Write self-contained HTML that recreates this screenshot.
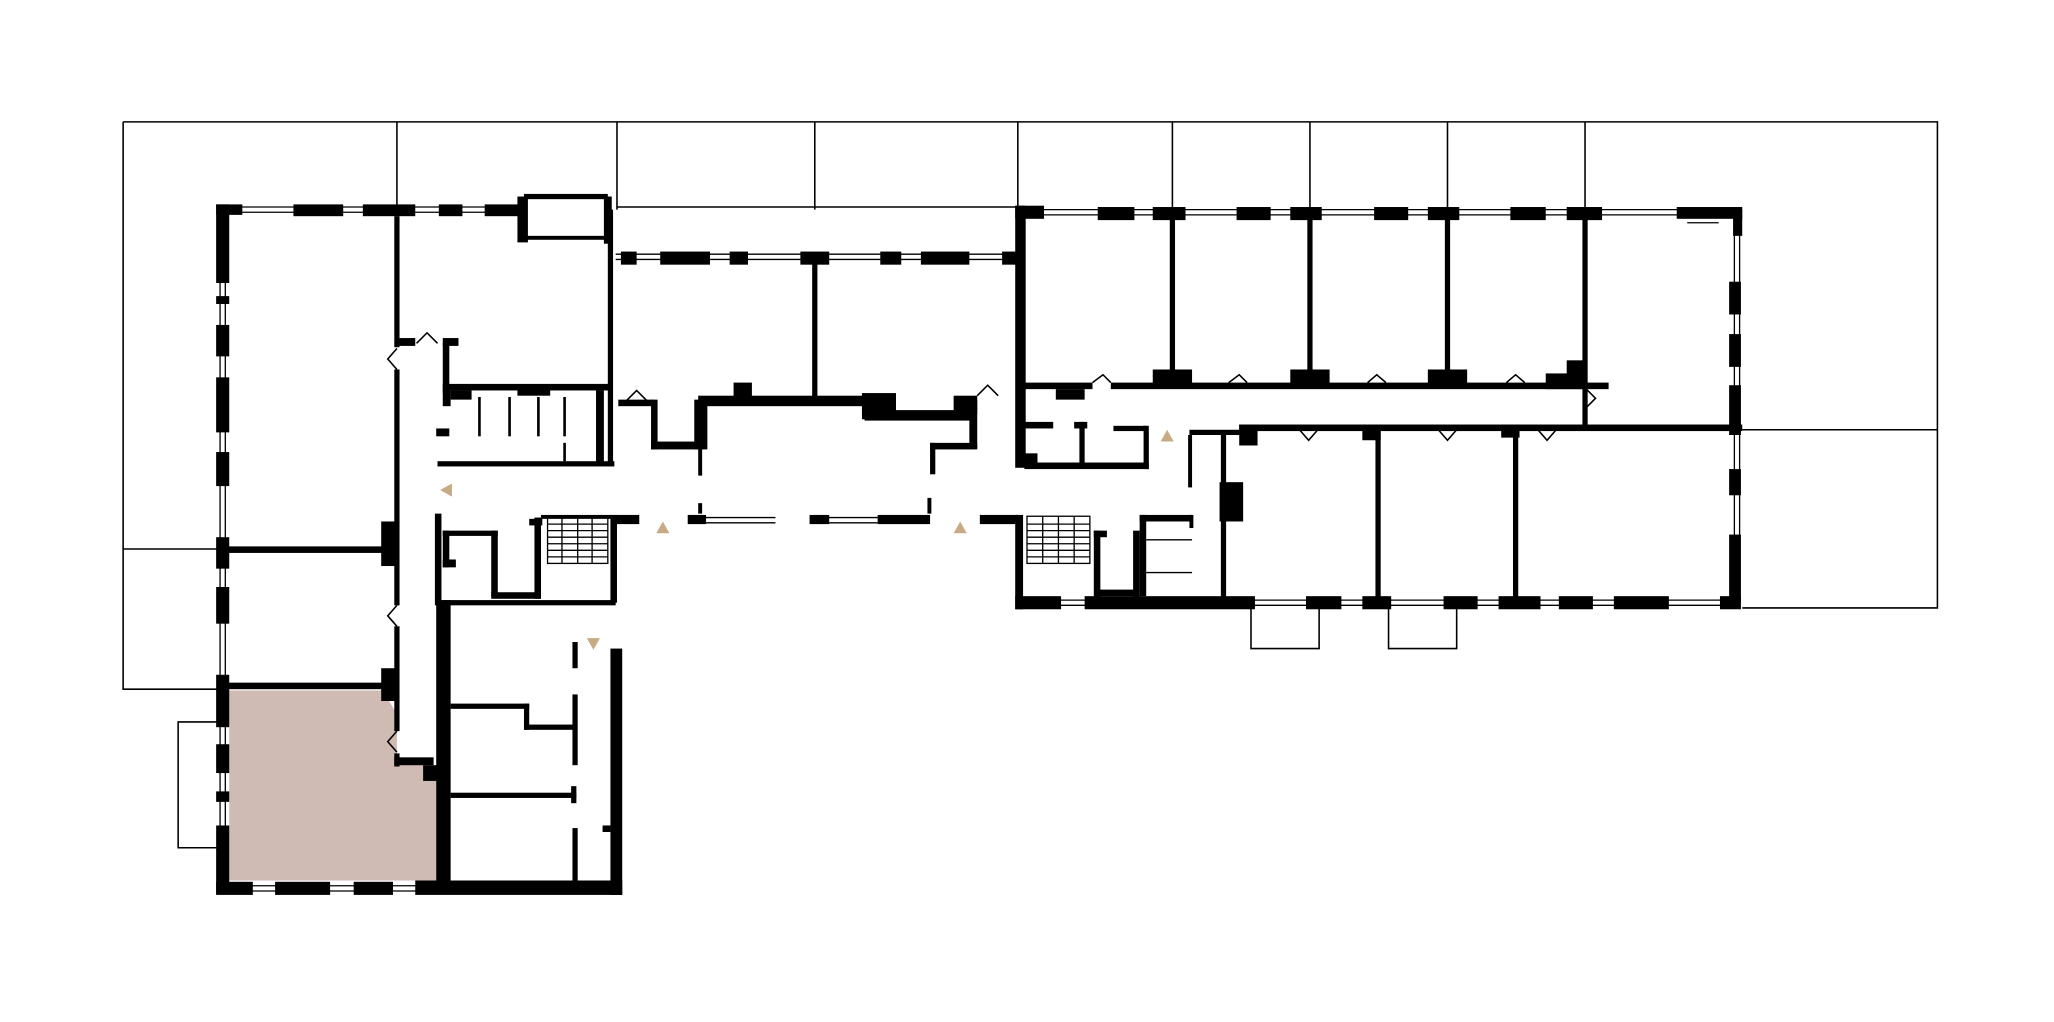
<!DOCTYPE html>
<html><head><style>html,body{margin:0;padding:0;background:#fff;width:2054px;height:1022px;overflow:hidden}svg{display:block}</style></head><body>
<svg width="2054" height="1022" viewBox="0 0 1568 780" preserveAspectRatio="none" xmlns="http://www.w3.org/2000/svg">
<rect width="1568" height="780" fill="#fff"/>
<!-- thin site grid -->
<g stroke="#000" stroke-width="1.2" fill="none">
<path d="M94 93H1479V464H1330M94 93V526H170M94 419H170M303 93V160M471 93V160M622 93V160M777 93V160M895 93V160M1000 93V160M1105 93V160M1210 93V160M471 158H777M1330 328H1479"/>
<path d="M955 462V495H1007V462M1060 462V495H1112V462M166 551H136V647H166"/>
</g>
<!-- pink room -->
<polygon points="175,527 297,527 297,535 303,545 303,583 325,583 325,593 333,593 333,672 175,672" fill="#cfbab4"/>
<!-- window double lines -->
<g stroke="#000" stroke-width="1" fill="none">
<path d="M168 165V680M172 165V680M170 158H400M170 162H400M470 194H778M470 198H778M782 160H1328M782 164H1328M1324 165V462M1328 165V462M780 458H1328M780 462H1328M170 676H335M170 680H335M530 395H592M530 399H592M620 395H710M620 399H710"/>
</g>
<g fill="#000">
<!-- left outer wall blocks -->
<rect x="165" y="156" width="10" height="60"/><rect x="165" y="226" width="10" height="6"/><rect x="165" y="248" width="10" height="24"/><rect x="165" y="288" width="10" height="42"/><rect x="165" y="345" width="10" height="26"/><rect x="165" y="410" width="10" height="24"/><rect x="165" y="448" width="10" height="28"/><rect x="165" y="515" width="10" height="40"/><rect x="165" y="568" width="10" height="22"/><rect x="165" y="604" width="10" height="8"/><rect x="165" y="630" width="10" height="52"/>
<rect x="165" y="156" width="20" height="8"/><rect x="224" y="156" width="38" height="9"/><rect x="277" y="156" width="40" height="9"/><rect x="335" y="156" width="18" height="9"/><rect x="370" y="156" width="30" height="9"/>
<rect x="165" y="673" width="28" height="10"/><rect x="210" y="673" width="42" height="10"/><rect x="270" y="673" width="30" height="10"/><rect x="317" y="672" width="158" height="11"/>
<!-- left wing inner walls -->
<rect x="170" y="417" width="133" height="5"/><rect x="170" y="521" width="133" height="5"/>
<rect x="301" y="165" width="4" height="100"/><rect x="301" y="282" width="4" height="180"/><rect x="301" y="478" width="4" height="80"/><rect x="301" y="575" width="4" height="10"/>
<rect x="291" y="398" width="12" height="34"/><rect x="291" y="510" width="12" height="25"/>
<rect x="301" y="578" width="30" height="6"/><rect x="323" y="584" width="15" height="12"/>
<rect x="333" y="458" width="11" height="224"/><rect x="338" y="458" width="132" height="4"/>
<rect x="466" y="495" width="9" height="188"/>
<rect x="344" y="537" width="60" height="4"/><rect x="400" y="537" width="4" height="20"/><rect x="400" y="553" width="40" height="4"/>
<rect x="344" y="605" width="96" height="4"/><rect x="436" y="600" width="4" height="13"/>
<rect x="437" y="530" width="4" height="54"/><rect x="437" y="632" width="4" height="40"/><rect x="437" y="490" width="4" height="20"/><rect x="460" y="630" width="6" height="5"/>
<!-- box top -->
<rect x="395" y="150" width="8" height="35"/><rect x="400" y="148" width="64" height="4"/><rect x="400" y="180" width="64" height="3"/><rect x="461" y="150" width="6" height="36"/>
<rect x="464" y="160" width="4" height="195"/>
<rect x="305" y="258" width="12" height="6"/><rect x="338" y="258" width="12" height="6"/><rect x="338" y="262" width="5" height="38"/>
<rect x="338" y="293" width="128" height="5"/><rect x="338" y="298" width="6" height="12"/><rect x="344" y="298" width="16" height="7"/><rect x="395" y="296" width="25" height="6"/><rect x="455" y="298" width="6" height="57"/>
<rect x="333" y="327" width="10" height="6"/>
<rect x="334" y="352" width="135" height="4"/>
<rect x="365" y="303" width="2" height="30"/><rect x="388" y="303" width="2" height="30"/><rect x="410" y="303" width="2" height="30"/><rect x="430" y="303" width="2" height="30"/><rect x="430" y="338" width="2" height="14"/>
<!-- lower left corridor rooms -->
<rect x="332" y="392" width="5" height="70"/><rect x="338" y="405" width="42" height="4"/><rect x="338" y="405" width="5" height="28"/><rect x="338" y="427" width="10" height="6"/><rect x="375" y="405" width="5" height="50"/><rect x="375" y="452" width="38" height="5"/><rect x="408" y="395" width="5" height="62"/><rect x="404" y="396" width="10" height="5"/>
<rect x="413" y="393" width="55" height="3"/><rect x="466" y="393" width="5" height="67"/><rect x="470" y="393" width="18" height="7"/>
<!-- middle -->
<rect x="474" y="192" width="12" height="10"/><rect x="504" y="192" width="38" height="10"/><rect x="557" y="192" width="14" height="10"/><rect x="611" y="192" width="22" height="10"/><rect x="672" y="192" width="16" height="10"/><rect x="703" y="192" width="37" height="10"/><rect x="765" y="192" width="14" height="10"/>
<rect x="620" y="196" width="4" height="110"/>
<rect x="533" y="302" width="130" height="8"/><rect x="560" y="292" width="14" height="12"/><rect x="658" y="300" width="26" height="20"/><rect x="660" y="313" width="85" height="8"/><rect x="728" y="302" width="18" height="14"/><rect x="740" y="305" width="6" height="37"/><rect x="710" y="338" width="36" height="5"/><rect x="710" y="338" width="4" height="24"/>
<rect x="530" y="305" width="10" height="38"/><rect x="497" y="337" width="40" height="6"/><rect x="497" y="305" width="5" height="38"/><rect x="472" y="305" width="27" height="5"/><rect x="533" y="343" width="3" height="20"/>
<rect x="533" y="384" width="3" height="8"/><rect x="525" y="393" width="14" height="7"/><rect x="618" y="393" width="15" height="7"/><rect x="670" y="393" width="40" height="7"/><rect x="708" y="380" width="3" height="12"/>
<rect x="748" y="393" width="30" height="7"/><rect x="775" y="393" width="6" height="72"/>
<!-- stairs -->
<g stroke="#000" stroke-width="1" fill="none"><rect x="418" y="394" width="46" height="36"/><path d="M441 394V430M418 400H464M418 405H464M418 410H464M418 415H464M418 420H464M418 425H464M429 394V430M452 394V430"/>
<rect x="784" y="394" width="48" height="36"/><path d="M808 394V430M784 400H832M784 405H832M784 410H832M784 415H832M784 420H832M784 425H832M796 394V430M820 394V430"/></g>
<!-- right wing -->
<rect x="775" y="157" width="8" height="200"/><rect x="775" y="157" width="22" height="10"/>
<rect x="838" y="158" width="28" height="10"/><rect x="880" y="158" width="25" height="10"/><rect x="944" y="158" width="26" height="10"/><rect x="985" y="158" width="24" height="10"/><rect x="1049" y="158" width="26" height="10"/><rect x="1090" y="158" width="24" height="10"/><rect x="1153" y="158" width="27" height="10"/><rect x="1196" y="158" width="27" height="10"/><rect x="1280" y="158" width="50" height="9"/><rect x="1323" y="160" width="7" height="20"/>
<rect x="1320" y="215" width="9" height="25"/><rect x="1320" y="255" width="9" height="25"/><rect x="1320" y="294" width="9" height="38"/><rect x="1320" y="358" width="9" height="20"/><rect x="1320" y="408" width="9" height="52"/><rect x="1313" y="455" width="16" height="10"/>
<rect x="893" y="165" width="4" height="128"/><rect x="998" y="165" width="4" height="128"/><rect x="1103" y="165" width="4" height="128"/><rect x="1208" y="165" width="4" height="160"/>
<rect x="782" y="292" width="52" height="5"/><rect x="806" y="297" width="22" height="8"/><rect x="848" y="292" width="380" height="5"/>
<rect x="880" y="282" width="30" height="14"/><rect x="985" y="282" width="30" height="14"/><rect x="1090" y="282" width="30" height="14"/><rect x="1180" y="285" width="30" height="12"/><rect x="1196" y="275" width="14" height="12"/>
<rect x="946" y="324" width="384" height="5"/><rect x="946" y="324" width="14" height="16"/><rect x="1040" y="324" width="14" height="12"/><rect x="1146" y="324" width="14" height="10"/>
<rect x="1050" y="326" width="4" height="134"/><rect x="1155" y="326" width="4" height="134"/>
<rect x="908" y="328" width="40" height="4"/><rect x="932" y="332" width="4" height="128"/><rect x="931" y="368" width="18" height="30"/><rect x="907" y="332" width="3" height="40"/>
<rect x="782" y="322" width="22" height="5"/><rect x="782" y="346" width="10" height="8"/><rect x="782" y="353" width="95" height="5"/><rect x="873" y="325" width="4" height="33"/><rect x="850" y="325" width="26" height="4"/><rect x="824" y="322" width="4" height="32"/><rect x="820" y="322" width="10" height="5"/>
<rect x="775" y="455" width="35" height="10"/><rect x="828" y="455" width="130" height="10"/><rect x="997" y="455" width="27" height="10"/><rect x="1040" y="455" width="22" height="10"/><rect x="1102" y="455" width="26" height="10"/><rect x="1144" y="455" width="32" height="10"/><rect x="1190" y="455" width="26" height="10"/><rect x="1232" y="455" width="42" height="10"/>
<rect x="835" y="405" width="5" height="52"/><rect x="835" y="405" width="10" height="5"/><rect x="865" y="405" width="5" height="52"/><rect x="838" y="450" width="30" height="5"/><rect x="870" y="393" width="40" height="5"/><rect x="870" y="393" width="5" height="62"/><rect x="908" y="393" width="3" height="10"/>
</g>
<g stroke="#000" stroke-width="1" fill="none"><path d="M875 412H910M875 437H910M1288 170H1312"/></g>
<!-- door swings -->
<g stroke="#000" stroke-width="1.2" fill="none">
<path d="M303 266L296 274L303 282M303 462L296 470L303 478M303 558L296 566L303 574M318 262L326 254L334 262M478 306L486 298L494 306M746 302L754 294L762 302M834 292L842 286L848 292M938 292L946 286L952 292M1044 292L1051 286L1058 292M1150 292L1157 286L1164 292M1210 296L1218 304L1210 312M992 328L999 336L1006 328M1098 328L1105 336L1112 328M1174 328L1181 336L1188 328"/>
</g>
<!-- tan markers -->
<g fill="#c8ab85">
<polygon points="336,374 345,369 345,379"/><polygon points="506,398 501,407 511,407"/><polygon points="733,398 728,407 738,407"/><polygon points="891,328 886,337 896,337"/><polygon points="453,496 448,487 458,487"/>
</g>
</svg>
</body></html>
